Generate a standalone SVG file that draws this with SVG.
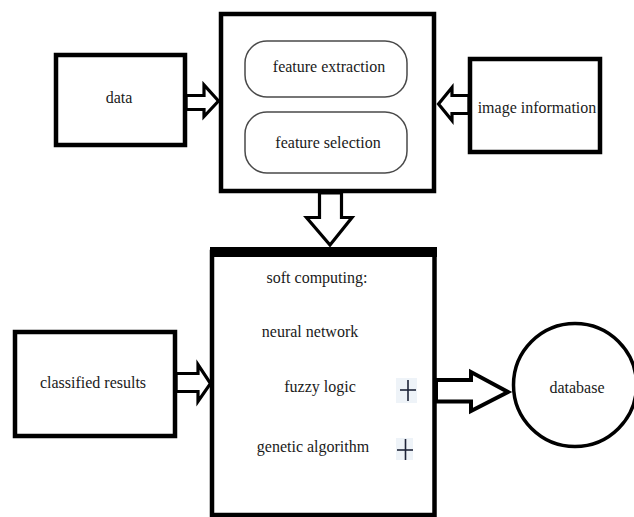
<svg xmlns="http://www.w3.org/2000/svg" width="634" height="517" viewBox="0 0 634 517">
<style>
.box{fill:#fff;stroke:#000;stroke-width:4.5}
.pill{fill:#fff;stroke:#4a4a4a;stroke-width:1.5}
.arr{fill:#fff;stroke:#000;stroke-width:3.2;stroke-linejoin:miter}
text{font-family:"Liberation Serif","Times New Roman",serif;font-size:16px;fill:#1a1a1a;text-anchor:middle}
.plusbg{fill:#eef3f8}
.plus{stroke:#1e2438;stroke-width:1.6}
</style>
<rect width="634" height="517" fill="#fff"/>
<g id="connectors">
<polygon class="arr" points="186,95.5 204,95.5 204,85 218.5,101 204,116.5 204,109.5 186,109.5"/>
<polygon class="arr" points="469,95.5 452,95.5 452,87.5 438.5,104 452,120.5 452,113.5 469,113.5"/>
<polygon class="arr" points="319.5,193 319.5,217.5 306.5,217.5 330,245 352,217.5 341.5,217.5 341.5,193"/>
<polygon class="arr" points="176,373.5 198,373.5 198,364.5 210.5,383.5 198,401.5 198,391.5 176,391.5"/>
<polygon class="arr" style="stroke-width:4" points="436,380 471,380 471,372 508,392 471,411 471,401.5 436,401.5"/>
</g>
<g id="data">
<rect class="box" x="56" y="55" width="129" height="90"/>
<text x="119" y="103">data</text>
</g>
<g id="features">
<rect class="box" x="221" y="14" width="213" height="177"/>
<g id="feature-extraction">
<rect class="pill" x="245" y="41" width="162" height="56" rx="22" ry="22"/>
<text x="329" y="72">feature extraction</text>
</g>
<g id="feature-selection">
<rect class="pill" x="245" y="112" width="162" height="61" rx="22" ry="22"/>
<text x="328" y="148">feature selection</text>
</g>
</g>
<g id="image-information">
<rect class="box" x="470" y="59" width="130" height="93"/>
<text x="537" y="113">image information</text>
</g>
<g id="classified-results">
<rect class="box" x="15" y="332" width="160" height="104"/>
<text x="93" y="388">classified results</text>
</g>
<g id="soft-computing">
<rect class="box" x="212" y="252" width="222.5" height="263"/>
<rect x="210" y="247" width="227" height="10" fill="#000"/>
<text x="317" y="283">soft computing:</text>
<text x="310" y="337">neural network</text>
<text x="320" y="392">fuzzy logic</text>
<text x="313" y="452">genetic algorithm</text>
<rect class="plusbg" x="396" y="378" width="21" height="25"/>
<line class="plus" x1="400" y1="390" x2="416" y2="390"/>
<line class="plus" x1="408" y1="380" x2="408" y2="401"/>
<rect class="plusbg" x="396" y="438" width="17" height="22"/>
<line class="plus" x1="397" y1="450" x2="413" y2="450"/>
<line class="plus" x1="405.5" y1="439" x2="405.5" y2="460"/>
</g>
<g id="database">
<circle cx="575" cy="385" r="61.5" fill="#fff" stroke="#000" stroke-width="3.5"/>
<text x="577" y="393">database</text>
</g>
</svg>
